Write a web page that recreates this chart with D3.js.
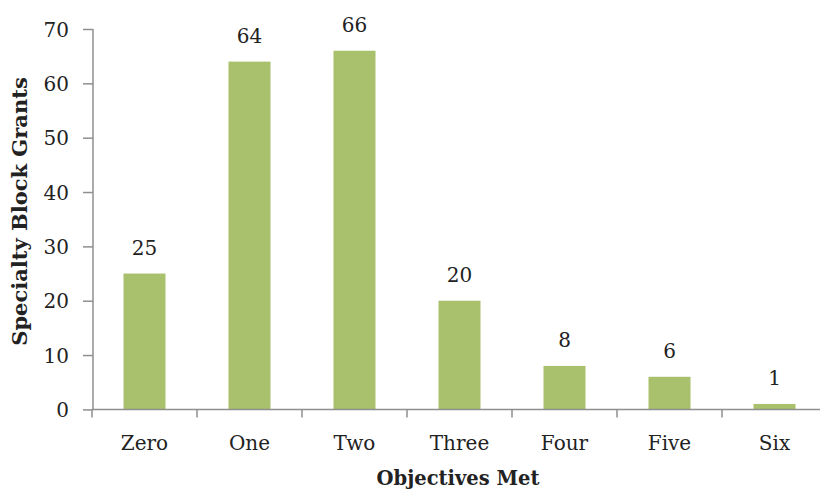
<!DOCTYPE html>
<html>
<head>
<meta charset="utf-8">
<script src="https://cdn.jsdelivr.net/npm/d3@7"></script>
<style>
  html, body { margin: 0; padding: 0; background: #fff; }
  svg { display: block; }
  text { font-family: "DejaVu Serif", serif; fill: #222; }
</style>
</head>
<body>
<svg id="chart" width="820" height="493"></svg>
<script>
// Specialty block grants by number of objectives met
const categories = ["Zero", "One", "Two", "Three", "Four", "Five", "Six"];
const grants = [25, 64, 66, 20, 8, 6, 1];
const yTicks = [0, 10, 20, 30, 40, 50, 60, 70];

(function () {
  const svg = d3.select("#chart");
  const plotLeft = 92, plotTop = 29, plotBottom = 409.4;
  const step = 105;

  const x = d3.scaleBand()
    .domain(categories)
    .range([plotLeft, plotLeft + step * categories.length])
    .paddingInner(0)
    .paddingOuter(0);

  const y = d3.scaleLinear().domain([0, 70]).range([plotBottom, plotTop]);

  const axisColor = "#8f8f8f";
  const barWidth = x.bandwidth() * 0.4;

  // bars
  svg.append("g").selectAll("rect")
    .data(grants)
    .join("rect")
    .attr("x", (d, i) => x(categories[i]) + (x.bandwidth() - barWidth) / 2)
    .attr("y", d => y(d))
    .attr("width", barWidth)
    .attr("height", d => y(0) - y(d))
    .attr("fill", "#a9c06c");

  // value labels
  svg.append("g").selectAll("text")
    .data(grants)
    .join("text")
    .attr("x", (d, i) => x(categories[i]) + x.bandwidth() / 2)
    .attr("y", d => y(d) - 19)
    .attr("text-anchor", "middle")
    .style("font-size", "20px")
    .text(d => d);

  // y axis
  const yAxis = svg.append("g")
    .attr("transform", `translate(${plotLeft + 1},0)`)
    .call(d3.axisLeft(y).tickValues(yTicks).tickSize(10).tickPadding(14));
  yAxis.select(".domain").attr("stroke", axisColor).attr("stroke-width", 1.5)
    .attr("d", `M0,${plotTop}V${plotBottom}`);
  yAxis.selectAll(".tick line").attr("stroke", axisColor).attr("stroke-width", 1.5);
  yAxis.selectAll(".tick text")
    .style("font-size", "20px")
    .style("font-family", "DejaVu Serif, serif")
    .attr("fill", "#222")
    .attr("dy", "0.36em");

  // x axis: ticks sit on category boundaries
  const xAxis = svg.append("g").attr("transform", `translate(0,${plotBottom})`);
  xAxis.append("line")
    .attr("x1", plotLeft).attr("x2", plotLeft + step * categories.length)
    .attr("stroke", axisColor).attr("stroke-width", 1.5);
  const boundaries = categories.map(c => x(c)).concat([x(categories[categories.length - 1]) + step]);
  xAxis.selectAll("line.tk")
    .data(boundaries)
    .join("line")
    .attr("class", "tk")
    .attr("x1", d => d).attr("x2", d => d)
    .attr("y1", 0).attr("y2", 8)
    .attr("stroke", axisColor).attr("stroke-width", 1.5);
  xAxis.selectAll("text")
    .data(categories)
    .join("text")
    .attr("x", d => x(d) + x.bandwidth() / 2)
    .attr("y", 41)
    .attr("text-anchor", "middle")
    .style("font-size", "20px")
    .text(d => d);

  // axis titles
  svg.append("text")
    .attr("x", 458)
    .attr("y", 485)
    .attr("text-anchor", "middle")
    .style("font-size", "19.5px")
    .style("font-weight", "bold")
    .text("Objectives Met");

  svg.append("text")
    .attr("transform", `translate(27,211.5) rotate(-90)`)
    .attr("text-anchor", "middle")
    .style("font-size", "21px")
    .style("font-weight", "bold")
    .text("Specialty Block Grants");
})();
</script>
</body>
</html>
